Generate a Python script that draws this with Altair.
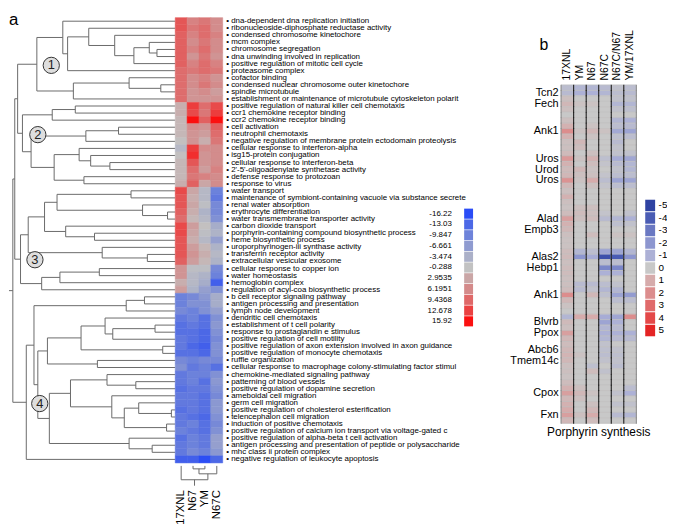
import altair as alt
import pandas as pd

FONT = "Liberation Sans"

# ---------------- panel a : data ----------------
a_terms = [
    "dna-dependent dna replication initiation",
    "ribonucleoside-diphosphate reductase activity",
    "condensed chromosome kinetochore",
    "mcm complex",
    "chromosome segregation",
    "dna unwinding involved in replication",
    "positive regulation of mitotic cell cycle",
    "proteasome complex",
    "cofactor binding",
    "condensed nuclear chromosome outer kinetochore",
    "spindle microtubule",
    "establishment or maintenance of microtubule cytoskeleton polarit",
    "positive regulation of natural killer cell chemotaxis",
    "ccr1 chemokine receptor binding",
    "ccr2 chemokine receptor binding",
    "cell activation",
    "neutrophil chemotaxis",
    "negative regulation of membrane protein ectodomain proteolysis",
    "cellular response to interferon-alpha",
    "isg15-protein conjugation",
    "cellular response to interferon-beta",
    "2'-5'-oligoadenylate synthetase activity",
    "defense response to protozoan",
    "response to virus",
    "water transport",
    "maintenance of symbiont-containing vacuole via substance secrete",
    "renal water absorption",
    "erythrocyte differentiation",
    "water transmembrane transporter activity",
    "carbon dioxide transport",
    "porphyrin-containing compound biosynthetic process",
    "heme biosynthetic process",
    "uroporphyrinogen-iii synthase activity",
    "transferrin receptor activity",
    "extracellular vesicular exosome",
    "cellular response to copper ion",
    "water homeostasis",
    "hemoglobin complex",
    "regulation of acyl-coa biosynthetic process",
    "b cell receptor signaling pathway",
    "antigen processing and presentation",
    "lymph node development",
    "dendritic cell chemotaxis",
    "establishment of t cell polarity",
    "response to prostaglandin e stimulus",
    "positive regulation of cell motility",
    "positive regulation of axon extension involved in axon guidance",
    "positive regulation of monocyte chemotaxis",
    "ruffle organization",
    "cellular response to macrophage colony-stimulating factor stimul",
    "chemokine-mediated signaling pathway",
    "patterning of blood vessels",
    "positive regulation of dopamine secretion",
    "ameboidal cell migration",
    "germ cell migration",
    "positive regulation of cholesterol esterification",
    "telencephalon cell migration",
    "induction of positive chemotaxis",
    "positive regulation of calcium ion transport via voltage-gated c",
    "positive regulation of alpha-beta t cell activation",
    "antigen processing and presentation of peptide or polysaccharide",
    "mhc class ii protein complex",
    "negative regulation of leukocyte apoptosis",
]
a_samples = ["17XNL", "N67", "YM", "N67C"]

a_17xnl = [11, 11, 10, 10, 10, 10, 10, 9, 9, 9,
           9, 9, 2, 2, 1, 1, 1, 0, -2, 0,
           1, 1, 1, 2, 12, 11, 11, 10, 9, 12,
           12, 11, 11, 11, 10, 5, 5, 2, 4, -10,
           -10, -9, -11, -12, -12, -11, -11, -12, -9, -8,
           -11, -11, -12, -11, -11, -12, -11, -11, -10, -12,
           -11, -11, -14]
a_n67 = [7, 8, 7, 6, 7, 5, 7, 8, 6, 6,
         5, 5, 13, 12, 16, 6, 5, 5, 13, 14,
         11, 9, 8, 10, 3, 2, 3, 2, 1, 4,
         3, 2, 4, 5, 4, -1, -2, -2, -3, -9,
         -8, -10, -10, -11, -12, -12, -13, -12, -10, -11,
         -10, -10, -11, -11, -11, -11, -12, -10, -11, -10,
         -10, -9, -14]
a_ym = [8, 9, 9, 8, 9, 8, 9, 9, 7, 8,
        6, 5, 9, 8, 10, 5, 4, 2, 6, 5,
        5, 4, 7, 3, -2, -2, -1, -3, -2, 0,
        -1, -2, 1, 2, 1, -1, -3, -4, -6, -7,
        -8, -8, -12, -12, -13, -13, -14, -13, -9, -10,
        -10, -12, -11, -12, -12, -12, -13, -12, -12, -11,
        -11, -10, -16]
a_n67c = [6, 6, 7, 6, 6, 5, 7, 8, 5, 6,
          4, 5, 12, 13, 15.9, 10, 9, 8, 6, 6,
          6, 7, 6, 6, -10, -11, -9, -9, -8, -4,
          -3, -6, -3, -2, -3, -9, -10, -14, -8, -4,
          -4, -6, -8, -7, -8, -9, -8, -8, -9, -12,
          -8, -7, -8, -9, -7, -7, -8, -9, -8, -6,
          -6, -7, -13]

a_legend_values = ["-16.22", "-13.03", "-9.847", "-6.661", "-3.474", "-0.288",
                   "2.9535", "6.1951", "9.4368", "12.678", "15.92"]
a_legend_colors = ["#2a4cf6", "#4c68e6", "#6e83da", "#8f9bd0", "#abb0c8", "#c2c2c2",
                   "#caa6a6", "#d48a8a", "#df6868", "#ea4242", "#fb1010"]

# row dendrogram: (merge height, left, right); leaves are row numbers (1-based)
n5_6 = (19, 5, 6)
n4_6 = (27, 4, n5_6)
n4_7 = (43, n4_6, 7)
n3_7 = (63, 3, n4_7)
n2_7 = (90, 2, n3_7)
n2_8 = (112, n2_7, 8)
g1a = (117, 1, n2_8)
n10_11 = (15, 10, 11)
n9_11 = (48, 9, n10_11)
g1b = (106, n9_11, 12)
clu1 = (144, g1a, g1b)
n13_14 = (104, 13, 14)
n13_15 = (128, n13_14, 15)
n16_17 = (59, 16, 17)
n16_18 = (93, n16_17, 18)
n21_22 = (68, 21, 22)
n20_22 = (88, 20, n21_22)
n19_22 = (100, 19, n20_22)
n23_24 = (95, 23, 24)
n19_24 = (126, n19_22, n23_24)
n16_24 = (150, n16_18, n19_24)
clu2 = (159, n13_15, n16_24)
clu12 = (164, clu1, clu2)
n25_26 = (46, 25, 26)
n28_29 = (8, 28, 29)
n27_29 = (34, 27, n28_29)
n25_29 = (123, n25_26, n27_29)
n31_32 = (84, 31, 32)
n30_32 = (114, 30, n31_32)
n25_32 = (136, n25_29, n30_32)
n34_35 = (29, 34, 35)
n33_35 = (76, 33, n34_35)
n25_35 = (153, n25_32, n33_35)
n36_37 = (79, 36, 37)
n36_38 = (120, n36_37, 38)
n36_39 = (139, n36_38, 39)
clu3 = (161, n25_35, n36_39)
clu123 = (167, clu12, clu3)
n40_41 = (32, 40, 41)
n40_42 = (51, n40_41, 42)
n44_45 = (21, 44, 45)
n44_46 = (65, n44_45, 46)
n43_46 = (73, 43, n44_46)
n47_48 = (13, 47, 48)
n43_48 = (98, n43_46, n47_48)
n49_50 = (81, 49, 50)
n43_50 = (133, n43_48, n49_50)
n52_53 = (41, 52, 53)
n51_53 = (71, 51, n52_53)
n56_57 = (4, 56, 57)
n55_57 = (38, 55, n56_57)
n58_59 = (9, 58, 59)
n55_59 = (53, n55_57, n58_59)
n54_59 = (66, 54, n55_59)
n51_59 = (109, n51_53, n54_59)
n61_62 = (24, 61, 62)
n60_62 = (48, 60, n61_62)
n51_62 = (131, n51_59, n60_62)
n43_62 = (143, n43_50, n51_62)
n40_62 = (147, n40_42, n43_62)
clu4 = (155, n40_62, 63)
row_tree = (169, clu123, clu4)
row_root_top = 173

# cluster badges: label, height, row
badge_labels = ["1", "2", "3", "4"]
badge_heights = [129, 143, 146, 141]
badge_rows = [7.25, 17.05, 34.75, 55.1]

# column dendrogram (leaves = column index of a_samples)
col_tree = (14, 0, (8, (3, 1, 2), 3))
col_root_top = 20

# ---------------- panel b : data ----------------
b_samples = ["17XNL", "YM", "N67", "N67C", "N67C/N67", "YM/17XNL"]
b_17xnl = [-0.5, -0.6, 0.3, 0.6, 0.3, 0, 0.3, 0.8, 2.0, 0.8,
           0.3, 0.3, 0.5, 1.6, 0.8, 0.5, 0.6, 1.8, 0.6, 0.3,
           0.8, 0.3, 0.2, 0.4, 1.4, 0.8, 0.6, 0.3, 0.2, 0.2,
           0.4, 0.5, 0.3, 0.4, 0.4, 0.3, 0.3, 0.4, 2.0, 0.6,
           0.2, 0, -0.8, 0.5, 0.3, 1.4, 0.6, 0.4, 0.6, 0.7,
           0.6, 0.3, 0.3, 0.2, 0.4, 0.8, 1.4, 0.6, 0.8, 1.0,
           1.4, 0.6]
b_ym = [-0.8, -1.0, 0, 0.2, 0, 0, 0, 0, 0.2, 0,
        0.6, 0.4, 0, 0.2, 0, 0.6, 0.3, 0.2, 0, 0,
        0, 0, 0.3, 0.4, 0.3, 0, 0, 0, 0, 0,
        -0.8, -2.0, 0, 0, 0, 0, -0.6, -0.6, 0, 0,
        0, 0, 1.0, 0, 0, 0, 0, 0, 0, 0.2,
        0, 0, 0, 0, 0, 0.3, 0.6, 0.3, 0, 0,
        0.3, 0]
b_n67 = [-0.8, -1.0, 0, 0.2, 0, 0, 0, 0.2, 0.6, 0.2,
         0, 0, 0.3, 0.8, 0.4, 0.2, 0.3, 1.0, 0.3, 0,
         0, 0, 0.3, 0.3, 0.4, 0, 0, 0.4, 0, 0,
         -0.5, -1.2, 0, 0, 0, 0, -0.6, -0.3, 0.6, 0,
         0, 0, 1.0, 0, 0, 0, 0, 0, 0, 0,
         0, -0.4, 0.4, 0, 0, 0, 0.2, 0, 0.3, 0.6,
         1.0, 0.4]
b_n67c = [-0.6, -0.8, 0, 0, 0, 0, 0, 0, 0.2, 0,
          0, 0, 0, -0.4, -0.2, 0, -0.2, -0.5, -0.2, 0,
          0, 0, 0, -0.2, -0.6, 0, 0, 0, 0, 0,
          -1.5, -4.5, -0.5, -2.5, -1.0, 0, -0.5, -0.8, -0.4, 0,
          0, 0, -1.2, -1.5, -0.8, -1.0, -0.8, -0.3, -0.4, -0.5,
          -0.3, 0, -0.3, 0, 0, 0, 0, 0, 0, 0,
          0, 0]
b_n67c_n67 = [-0.3, -0.5, -0.3, -0.8, -0.3, 0, -0.8, -0.5, -1.3, -0.4,
              -0.6, -0.3, -0.3, -1.2, -0.6, -0.3, -0.5, -1.5, -0.5, 0,
              0, 0, 0, 0, -0.8, -0.4, 0, 0.2, 0, 0,
              -1.5, -4.0, -0.5, -2.5, -1.0, 0, -0.3, -0.8, -1.5, -0.5,
              0, 0, -1.4, -1.0, -0.6, -1.0, -0.6, 0, -0.3, -0.4,
              -0.3, -0.5, 0, 0, 0, 0, -0.3, 0, -0.3, 0,
              -0.6, 0]
b_ym_17xnl = [-0.5, -0.6, -0.3, -0.8, -0.4, 0, -1.0, -0.6, -1.5, -0.5,
              0, 0, -0.3, -1.4, -0.8, -0.8, -0.5, -1.5, -0.5, 0,
              0, 0, 0, -0.3, -1.0, -0.3, 0, 0.2, 0, 0,
              -0.8, -2.0, 0, 0, 0, 0, 0, 0, -1.8, -0.5,
              0, 0, 2.0, 0, 0, -1.0, -0.6, 0, 0, 0,
              0, 0, 0, 0, 0, -0.5, -1.0, 0, -0.3, 0,
              -0.8, 0]
b_gene_rows = [1, 3, 8, 13, 15, 17, 24, 26, 31, 33, 38, 43, 45, 48, 50, 56, 60]
b_gene_names = ["Tcn2", "Fech", "Ank1", "Uros", "Urod", "Uros", "Alad", "Empb3",
                "Alas2", "Hebp1", "Ank1", "Blvrb", "Ppox", "Abcb6", "Tmem14c",
                "Cpox", "Fxn"]
b_legend_values = ["-5", "-4", "-3", "-2", "-1", "0", "1", "2", "3", "4", "5"]
b_legend_colors = ["#2f43a2", "#4a5cb4", "#6a78c2", "#8d96cf", "#adb1d6", "#c8c8c8",
                   "#d6abab", "#dc8d8d", "#e06a6a", "#e44848", "#e42424"]


# ---------------- helpers ----------------
def tree_segments(tree, leaf_pos):
    segs = []

    def walk(node):
        if isinstance(node, int):
            return leaf_pos(node), 0.0
        h, left, right = node
        pl, hl = walk(left)
        pr, hr = walk(right)
        segs.append({"p1": pl, "p2": pr, "h1": h, "h2": h})
        segs.append({"p1": pl, "p2": pl, "h1": hl, "h2": h})
        segs.append({"p1": pr, "p2": pr, "h1": hr, "h2": h})
        return (pl + pr) / 2.0, h

    p, h = walk(tree)
    return segs, p, h


H_A = 450
n_rows_a = len(a_terms)
n_rows_b = len(b_17xnl)
line_col = "#6a6a6a"

# ---- row dendrogram ----
row_segs, root_p, root_h = tree_segments(row_tree, lambda i: float(i))
row_segs.append({"p1": root_p, "p2": root_p, "h1": root_h, "h2": row_root_top})
row_seg_df = pd.DataFrame(row_segs)

xh = alt.Scale(domain=[0, row_root_top], reverse=True, nice=False, zero=False)
yrow = alt.Scale(domain=[0.5, n_rows_a + 0.5], reverse=True, nice=False, zero=False)

dendro_lines = alt.Chart(row_seg_df).mark_rule(color=line_col, strokeWidth=1).encode(
    x=alt.X("h1:Q", scale=xh, axis=None),
    x2="h2:Q",
    y=alt.Y("p1:Q", scale=yrow, axis=None),
    y2="p2:Q",
)
badge_df = pd.DataFrame({"label": badge_labels, "h": badge_heights, "row": badge_rows})
badges = alt.Chart(badge_df).mark_circle(size=270, fill="#dedede", stroke="#333333",
                                         strokeWidth=1, opacity=1).encode(
    x=alt.X("h:Q", scale=xh, axis=None),
    y=alt.Y("row:Q", scale=yrow, axis=None),
)
badge_text = alt.Chart(badge_df).mark_text(fontSize=13, font=FONT, color="#222222").encode(
    x=alt.X("h:Q", scale=xh, axis=None),
    y=alt.Y("row:Q", scale=yrow, axis=None),
    text="label:N",
)
dendro = alt.layer(dendro_lines, badges, badge_text).properties(
    width=168, height=H_A,
    title=alt.TitleParams("a", anchor="start", frame="group", fontSize=17, font=FONT,
                          fontWeight="normal", baseline="alphabetic", offset=0, dy=24),
)

# ---- heatmap a ----
a_cols = [a_17xnl, a_n67, a_ym, a_n67c]
heat_a_rows = []
for s, vals in zip(a_samples, a_cols):
    for t, v in zip(a_terms, vals):
        heat_a_rows.append({"sample": s, "term": t, "value": v})
heat_a_df = pd.DataFrame(heat_a_rows)
a_legend_nums = [float(v) for v in a_legend_values]
a_color_scale = alt.Scale(domain=a_legend_nums, range=a_legend_colors, interpolate="rgb")

heat_a = alt.Chart(heat_a_df).mark_rect(strokeWidth=0.5).encode(
    x=alt.X("sample:N", sort=a_samples,
            scale=alt.Scale(paddingInner=0, paddingOuter=0),
            axis=alt.Axis(orient="bottom", title=None, labelAngle=270, labelFontSize=11.5,
                          labelFont=FONT, labelColor="black", ticks=False, domain=False,
                          offset=25, labelPadding=2)),
    y=alt.Y("term:N", sort=a_terms,
            scale=alt.Scale(paddingInner=0, paddingOuter=0),
            axis=alt.Axis(orient="right", title=None, ticks=False, domain=False,
                          labelFontSize=8, labelFont=FONT, labelColor="black",
                          labelPadding=3, labelLimit=400, labelOverlap=False,
                          labelExpr="'\u2022 ' + datum.label")),
    color=alt.Color("value:Q", scale=a_color_scale, legend=None),
    stroke=alt.Stroke("value:Q", scale=a_color_scale, legend=None),
)

col_segs, col_p, col_h = tree_segments(col_tree, lambda i: i + 0.5)
col_segs.append({"p1": col_p, "p2": col_p, "h1": col_h, "h2": col_root_top})
col_dendro = alt.Chart(pd.DataFrame(col_segs)).mark_rule(color=line_col, strokeWidth=1).encode(
    x=alt.X("p1:Q", scale=alt.Scale(domain=[0, len(a_samples)], nice=False, zero=False),
            axis=None),
    x2="p2:Q",
    y=alt.Y("h1:Q", scale=alt.Scale(domain=[0, col_root_top], range=[453, 473],
                                    nice=False, zero=False), axis=None),
    y2="h2:Q",
)
heat_a_block = alt.layer(heat_a, col_dendro).resolve_scale(
    x="independent", y="independent").properties(width=48, height=H_A)


# ---- gaps ----
def gap(w, title=None):
    c = alt.Chart(pd.DataFrame({"v": [0]})).mark_point(opacity=0)
    if title is not None:
        return c.properties(width=w, height=10, title=title)
    return c.properties(width=w, height=10)


# ---- legend a ----
legend_a = alt.Chart(pd.DataFrame({"label": a_legend_values})).mark_rect().encode(
    y=alt.Y("label:N", sort=a_legend_values,
            scale=alt.Scale(range=[193, 312], paddingInner=0.06, paddingOuter=0),
            axis=alt.Axis(orient="left", title=None, ticks=False, domain=False,
                          labelFontSize=8, labelFont=FONT, labelColor="black",
                          labelPadding=13)),
    color=alt.Color("label:N", scale=alt.Scale(domain=a_legend_values, range=a_legend_colors),
                    legend=None),
).properties(width=9, height=H_A)

# ---- heatmap b ----
b_cols = [b_17xnl, b_ym, b_n67, b_n67c, b_n67c_n67, b_ym_17xnl]
heat_b_rows = []
for s, vals in zip(b_samples, b_cols):
    for r, v in enumerate(vals):
        heat_b_rows.append({"sample": s, "row": r, "value": v})
heat_b_df = pd.DataFrame(heat_b_rows)
b_legend_nums = [float(v) for v in b_legend_values]
b_color_scale = alt.Scale(domain=b_legend_nums, range=b_legend_colors, interpolate="rgb")

rows_js = "[" + ",".join(str(r) for r in b_gene_rows) + "]"
names_js = "[" + ",".join("'" + n + "'" for n in b_gene_names) + "]"
yb_scale = alt.Scale(range=[68, 410], paddingInner=0, paddingOuter=0)
yb_axis = alt.Axis(orient="left", title=None, ticks=False, domain=False,
                   values=b_gene_rows, labelFontSize=11, labelFont=FONT,
                   labelColor="black", labelPadding=3, labelOverlap=False,
                   labelExpr=names_js + "[indexof(" + rows_js + ", datum.value)]")
xb_scale = alt.Scale(paddingInner=0, paddingOuter=0)

heat_b = alt.Chart(heat_b_df).mark_rect(strokeWidth=0.8).encode(
    x=alt.X("sample:N", sort=b_samples, scale=xb_scale,
            axis=alt.Axis(orient="top", title=None, labelAngle=270, labelFontSize=10.5,
                          labelFont=FONT, labelColor="black", ticks=False, domain=False,
                          offset=-66, labelPadding=3)),
    y=alt.Y("row:O", scale=yb_scale, axis=yb_axis),
    color=alt.Color("value:Q", scale=b_color_scale, legend=None),
    stroke=alt.Stroke("value:Q", scale=b_color_scale, legend=None),
)

# column separators: one short tick per (boundary, row)
sep_inner = pd.DataFrame([{"sample": s, "row": r} for s in b_samples[1:]
                          for r in range(n_rows_b)])
sep_left = pd.DataFrame([{"sample": b_samples[0], "row": r} for r in range(n_rows_b)])
sep_right = pd.DataFrame([{"sample": b_samples[-1], "row": r} for r in range(n_rows_b)])
row_step = 342.0 / n_rows_b


def sep_layer(df, band_pos, colour):
    return alt.Chart(df).mark_tick(orient="vertical", color=colour, thickness=1,
                                   size=row_step + 0.6, opacity=1).encode(
        x=alt.X("sample:N", sort=b_samples, scale=xb_scale, bandPosition=band_pos),
        y=alt.Y("row:O", scale=yb_scale, axis=yb_axis),
    )


heat_b_block = alt.layer(
    heat_b,
    sep_layer(sep_inner, 0, "#111111"),
    sep_layer(sep_left, 0, "#8a8a8a"),
    sep_layer(sep_right, 1, "#8a8a8a"),
).properties(
    width=76, height=410,
    title=alt.TitleParams("Porphyrin synthesis", orient="bottom", anchor="middle",
                          frame="group", fontSize=12, font=FONT, fontWeight="normal",
                          offset=3),
)

# ---- legend b ----
legend_b = alt.Chart(pd.DataFrame({"label": b_legend_values})).mark_rect().encode(
    y=alt.Y("label:N", sort=b_legend_values,
            scale=alt.Scale(range=[184, 322], paddingInner=0.08, paddingOuter=0),
            axis=alt.Axis(orient="right", title=None, ticks=False, domain=False,
                          labelFontSize=10, labelFont=FONT, labelColor="black",
                          labelPadding=3)),
    color=alt.Color("label:N", scale=alt.Scale(domain=b_legend_values, range=b_legend_colors),
                    legend=None),
).properties(width=10, height=410)

b_title = alt.TitleParams("b", anchor="end", frame="group", fontSize=16, font=FONT,
                          fontWeight="normal", baseline="alphabetic", offset=0,
                          dx=-13, dy=49)

chart = alt.hconcat(
    dendro, heat_a_block, gap(244), legend_a, gap(89, b_title), heat_b_block, gap(9), legend_b,
    spacing=0, bounds="flush",
).properties(padding=0).configure_view(stroke=None)

chart.save("out.html", embed_options={"renderer": "svg", "actions": False})
